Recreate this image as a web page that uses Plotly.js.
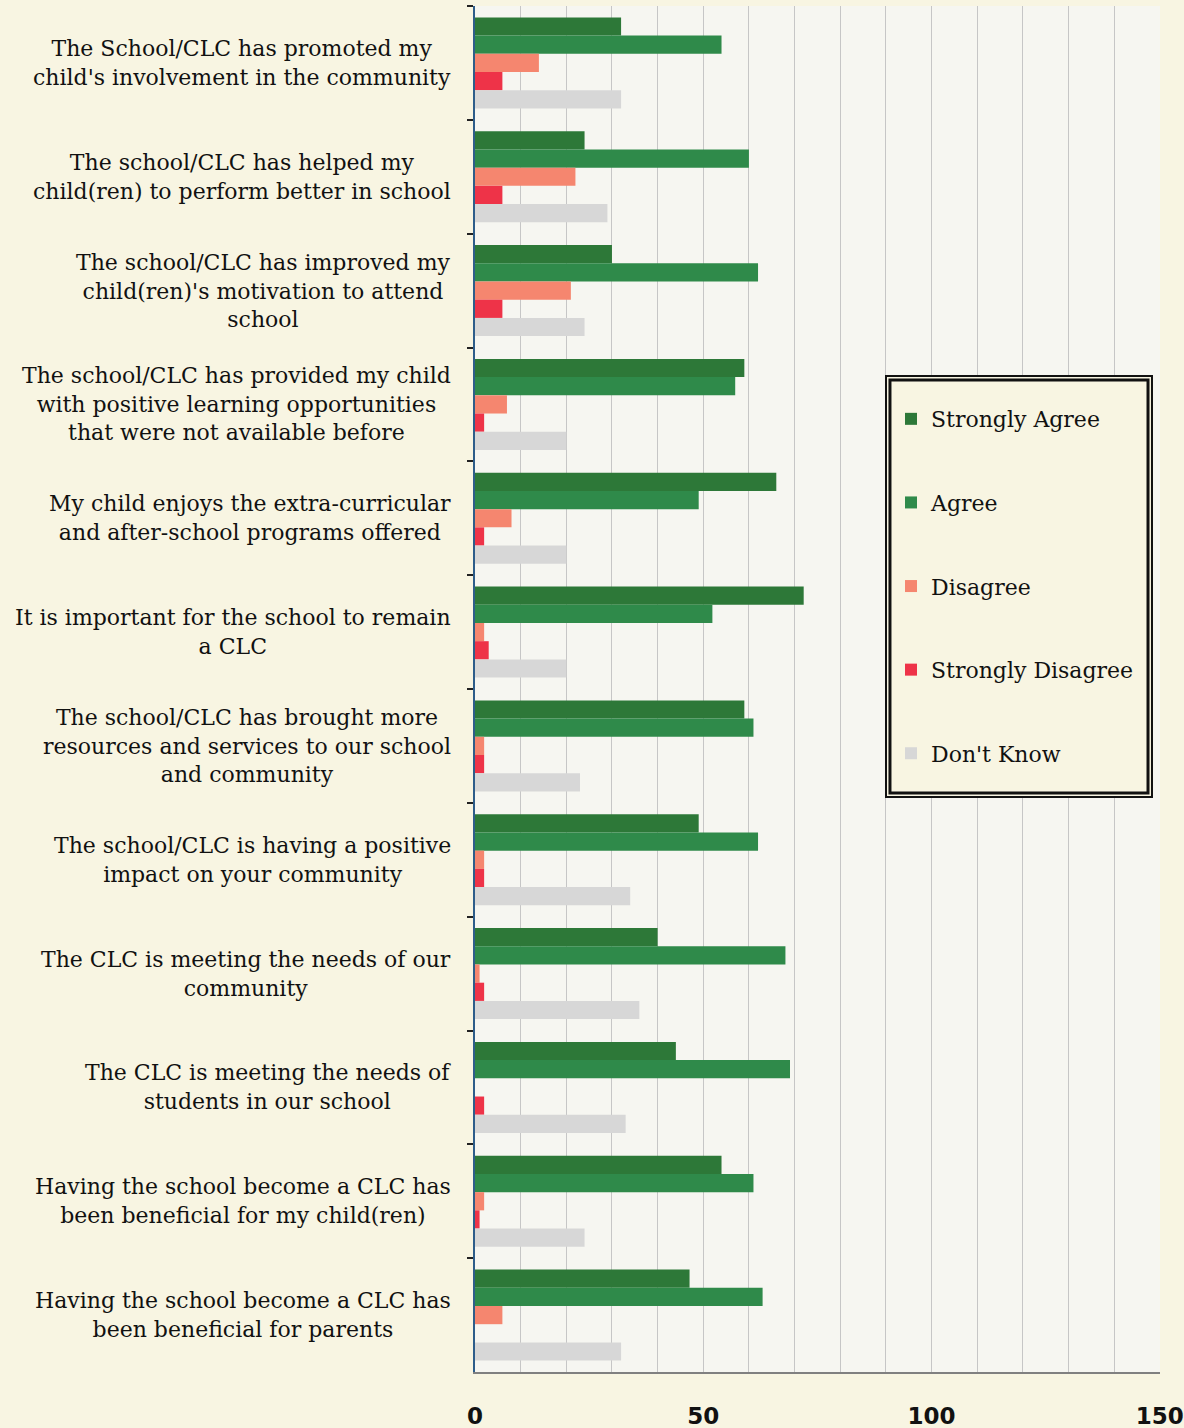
<!DOCTYPE html>
<html><head><meta charset="utf-8">
<script src="https://cdn.plot.ly/plotly-3.0.1.min.js"></script>
<style>html,body{margin:0;padding:0;background:#f8f5e2;} #chart{width:1184px;height:1428px;}</style>
</head><body><div id="chart"></div>
<script>
var categories = [
  "The School/CLC has promoted my<br>child's involvement in the community",
  "The school/CLC has helped my<br>child(ren) to perform better in school",
  "The school/CLC has improved my<br>child(ren)'s motivation to attend<br>school",
  "The school/CLC has provided my child<br>with positive learning opportunities<br>that were not available before",
  "My child enjoys the extra-curricular<br>and after-school programs offered",
  "It is important for the school to remain<br>a CLC",
  "The school/CLC has brought more<br>resources and services to our school<br>and community",
  "The school/CLC is having a positive<br>impact on your community",
  "The CLC is meeting the needs of our<br>community",
  "The CLC is meeting the needs of<br>students in our school",
  "Having the school become a CLC has<br>been beneficial for my child(ren)",
  "Having the school become a CLC has<br>been beneficial for parents"
];
var seriesNames = ["Strongly Agree", "Agree", "Disagree", "Strongly Disagree", "Don't Know"];
var stronglyAgree    = [32, 24, 30, 59, 66, 72, 59, 49, 40, 44, 54, 47];
var agree            = [54, 60, 62, 57, 49, 52, 61, 62, 68, 69, 61, 63];
var disagree         = [14, 22, 21, 7, 8, 2, 2, 2, 1, 0, 2, 6];
var stronglyDisagree = [6, 6, 6, 2, 2, 3, 2, 2, 2, 2, 1, 0];
var dontKnow         = [32, 29, 24, 20, 20, 20, 23, 34, 36, 33, 24, 32];
var xTickVals = [0, 10, 20, 30, 40, 50, 60, 70, 80, 90, 100, 110, 120, 130, 140, 150];
var xTickText = ["0", "", "", "", "", "50", "", "", "", "", "100", "", "", "", "", "150"];

var seriesValues = [stronglyAgree, agree, disagree, stronglyDisagree, dontKnow];
var colors = ["#2d7838", "#2f8a4a", "#f5866f", "#ee3348", "#d7d7d7"];

var traces = seriesValues.map(function (vals, i) {
  return {
    type: 'bar', orientation: 'h',
    name: seriesNames[i], legendgroup: 'g' + i,
    x: vals, y: categories,
    marker: {color: colors[i]},
    hoverinfo: 'x+name'
  };
});

var annotations = categories.map(function (c) {
  return {
    xref: 'paper', yref: 'y', x: 0, y: c, xshift: -22,
    xanchor: 'right', yanchor: 'middle', align: 'center',
    text: c, showarrow: false,
    font: {family: 'DejaVu Serif', size: 22, color: '#111'}
  };
});

var layout = {
  width: 1184, height: 1428,
  paper_bgcolor: '#f8f5e2', plot_bgcolor: '#f6f6f1',
  margin: {l: 475, r: 24, t: 6, b: 56},
  barmode: 'group', bargap: 0.2, bargroupgap: 0,
  font: {family: 'DejaVu Serif', size: 22, color: '#111'},
  showlegend: true,
  xaxis: {
    range: [0, 150.05], tickmode: 'array', tickvals: xTickVals, ticktext: xTickText,
    showgrid: true, gridcolor: '#c6c6c6', gridwidth: 1,
    showline: true, linecolor: '#808080', linewidth: 2, zeroline: false,
    ticks: '', ticklabelstandoff: 22,
    tickfont: {family: 'DejaVu Sans', size: 23, color: '#111', weight: 'bold'}
  },
  yaxis: {
    type: 'category', autorange: 'reversed', showticklabels: false,
    ticks: 'outside', tickson: 'boundaries', ticklen: 6, tickwidth: 2, tickcolor: '#222',
    showline: true, linecolor: '#2e5d8a', linewidth: 2, showgrid: false
  },
  legend: {
    x: 0.6073, y: 0.7130, xanchor: 'left', yanchor: 'top',
    bgcolor: 'rgba(0,0,0,0)', borderwidth: 0,
    tracegroupgap: 52, traceorder: 'grouped',
    font: {family: 'DejaVu Serif', size: 22, color: '#111'}
  },
  annotations: annotations,
  shapes: [
    {
      type: 'rect', xref: 'paper', yref: 'paper',
      x0: 0.600, x1: 0.9883, y0: 0.4209, y1: 0.7291,
      line: {color: '#111', width: 2}, fillcolor: '#f8f5e2', layer: 'above'
    },
    {
      type: 'rect', xref: 'paper', yref: 'paper',
      x0: 0.6058, x1: 0.9825, y0: 0.4239, y1: 0.7262,
      line: {color: '#111', width: 3}, fillcolor: 'rgba(0,0,0,0)', layer: 'above'
    }
  ]
};

Plotly.newPlot('chart', traces, layout, {displayModeBar: false, staticPlot: true});
</script></body></html>
